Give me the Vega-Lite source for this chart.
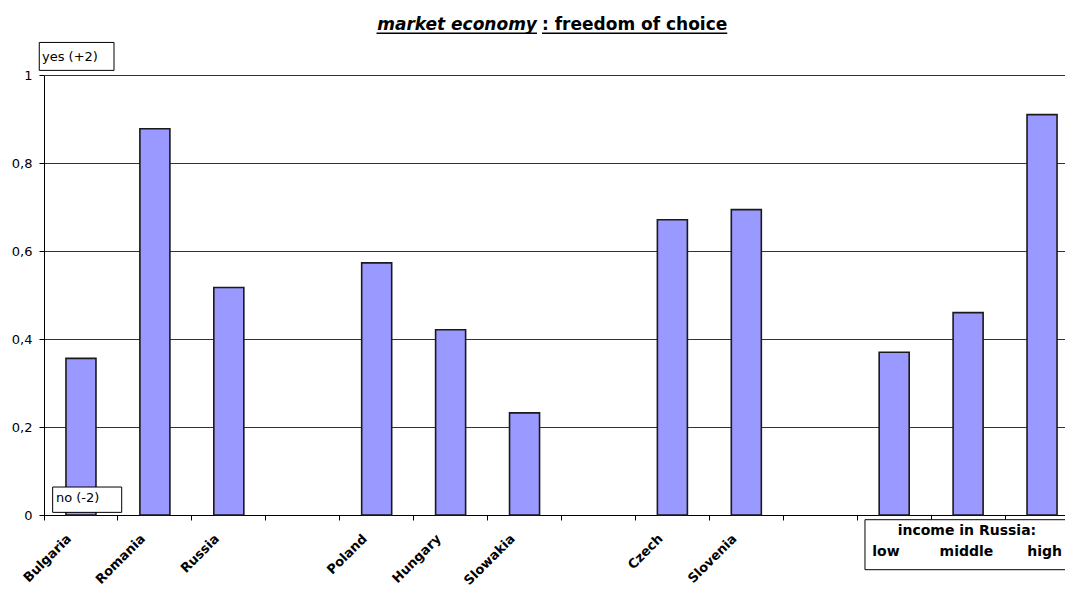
{
  "$schema": "https://vega.github.io/schema/vega-lite/v6.json",
  "autosize": {"type": "none"},
  "padding": {"left": 44, "top": 75, "right": 0, "bottom": 75},
  "width": 1021,
  "height": 440,
  "background": "white",
  "config": {"view": {"stroke": null}, "font": "DejaVu Sans"},
  "datasets": {
    "bars": [
      {"category": "Bulgaria", "value": 0.356},
      {"category": "Romania", "value": 0.878},
      {"category": "Russia", "value": 0.517},
      {"category": "Poland", "value": 0.573},
      {"category": "Hungary", "value": 0.421},
      {"category": "Slowakia", "value": 0.232},
      {"category": "Czech", "value": 0.671},
      {"category": "Slovenia", "value": 0.694},
      {"category": "low", "value": 0.37},
      {"category": "middle", "value": 0.46},
      {"category": "high", "value": 0.91}
    ],
    "boxes": [
      {"name": "yes", "x1": -0.064, "x2": 0.947, "y1": 1.0105, "y2": 1.074},
      {"name": "no", "x1": 0.117, "x2": 1.051, "y1": 0.006, "y2": 0.0636},
      {"name": "income", "x1": 11.105, "x2": 14.4, "y1": -0.0107, "y2": -0.1243}
    ],
    "boxtext": [
      {"text": "yes (+2)", "x": -0.027, "y": 1.0416},
      {"text": "no (-2)", "x": 0.162, "y": 0.0386}
    ],
    "incometext": [
      {"text": "income in Russia:", "x": 12.484, "y": -0.037},
      {"text": "low", "x": 11.389, "y": -0.083},
      {"text": "middle", "x": 12.478, "y": -0.083},
      {"text": "high", "x": 13.536, "y": -0.083}
    ],
    "titleA": [{"text": "market economy", "x": 6.668, "y": 1.103}],
    "titleB": [{"text": ": freedom of choice", "x": 6.736, "y": 1.103}],
    "underline": [
      {"x1": 4.498, "x2": 6.668, "y": 1.095},
      {"x1": 6.736, "x2": 9.242, "y": 1.095}
    ]
  },
  "layer": [
    {
      "data": {"name": "bars"},
      "mark": {"type": "bar", "fill": "#9999FF", "stroke": "#1a1a1a", "strokeWidth": 1.6, "width": {"band": 0.406}},
      "encoding": {
        "x": {
          "field": "category",
          "type": "nominal",
          "sort": null,
          "scale": {
            "domain": ["Bulgaria", "Romania", "Russia", "gap1", "Poland", "Hungary", "Slowakia", "gap2", "Czech", "Slovenia", "gap3", "low", "middle", "high"],
            "range": [0, 1035],
            "paddingInner": 0,
            "paddingOuter": 0
          },
          "axis": {
            "title": null,
            "bandPosition": 0,
            "domainColor": "#000000",
            "tickColor": "#000000",
            "tickSize": 5,
            "labelAngle": -45,
            "labelAlign": "right",
            "labelBaseline": "top",
            "labelOffset": -16,
            "labelPadding": 12,
            "labelFont": "DejaVu Sans",
            "labelFontWeight": "bold",
            "labelFontSize": 13,
            "labelColor": "#000000",
            "labelOverlap": false,
            "labelExpr": "indexof(['low','middle','high','gap1','gap2','gap3'], datum.label) >= 0 ? '' : datum.label"
          }
        },
        "y": {
          "field": "value",
          "type": "quantitative",
          "scale": {"domain": [0, 1], "nice": false, "zero": true},
          "axis": {
            "title": null,
            "values": [0, 0.2, 0.4, 0.6, 0.8, 1],
            "grid": true,
            "gridColor": "#333333",
            "gridWidth": 1,
            "domainColor": "#000000",
            "tickColor": "#000000",
            "tickSize": 5,
            "labelPadding": 7,
            "labelFont": "DejaVu Sans",
            "labelFontSize": 13,
            "labelColor": "#000000",
            "labelExpr": "datum.value == 0 ? '0' : datum.value == 1 ? '1' : replace(format(datum.value, '.1f'), '.', ',')"
          }
        }
      }
    },
    {
      "data": {"name": "boxes"},
      "mark": {"type": "rect", "fill": "#ffffff", "stroke": "#000000", "strokeWidth": 1},
      "encoding": {
        "x": {"field": "x1", "type": "quantitative", "scale": {"domain": [0, 14], "range": [0, 1035], "nice": false, "zero": false}, "axis": null},
        "x2": {"field": "x2"},
        "y": {"field": "y1", "type": "quantitative"},
        "y2": {"field": "y2"}
      }
    },
    {
      "data": {"name": "boxtext"},
      "mark": {"type": "text", "align": "left", "baseline": "middle", "font": "DejaVu Sans", "fontSize": 13, "color": "#000000"},
      "encoding": {
        "x": {"field": "x", "type": "quantitative", "scale": {"domain": [0, 14], "range": [0, 1035], "nice": false, "zero": false}, "axis": null},
        "y": {"field": "y", "type": "quantitative"},
        "text": {"field": "text"}
      }
    },
    {
      "data": {"name": "incometext"},
      "mark": {"type": "text", "align": "center", "baseline": "middle", "font": "DejaVu Sans", "fontWeight": "bold", "fontSize": 14, "color": "#000000"},
      "encoding": {
        "x": {"field": "x", "type": "quantitative", "scale": {"domain": [0, 14], "range": [0, 1035], "nice": false, "zero": false}, "axis": null},
        "y": {"field": "y", "type": "quantitative"},
        "text": {"field": "text"}
      }
    },
    {
      "data": {"name": "titleA"},
      "mark": {"type": "text", "align": "right", "baseline": "alphabetic", "font": "DejaVu Sans", "fontWeight": "bold", "fontStyle": "italic", "fontSize": 17, "color": "#000000"},
      "encoding": {
        "x": {"field": "x", "type": "quantitative", "scale": {"domain": [0, 14], "range": [0, 1035], "nice": false, "zero": false}, "axis": null},
        "y": {"field": "y", "type": "quantitative"},
        "text": {"field": "text"}
      }
    },
    {
      "data": {"name": "titleB"},
      "mark": {"type": "text", "align": "left", "baseline": "alphabetic", "font": "DejaVu Sans", "fontWeight": "bold", "fontSize": 17, "color": "#000000"},
      "encoding": {
        "x": {"field": "x", "type": "quantitative", "scale": {"domain": [0, 14], "range": [0, 1035], "nice": false, "zero": false}, "axis": null},
        "y": {"field": "y", "type": "quantitative"},
        "text": {"field": "text"}
      }
    },
    {
      "data": {"name": "underline"},
      "mark": {"type": "rule", "color": "#000000", "strokeWidth": 1.5},
      "encoding": {
        "x": {"field": "x1", "type": "quantitative", "scale": {"domain": [0, 14], "range": [0, 1035], "nice": false, "zero": false}, "axis": null},
        "x2": {"field": "x2"},
        "y": {"field": "y", "type": "quantitative"}
      }
    }
  ],
  "resolve": {"scale": {"x": "independent"}}
}
